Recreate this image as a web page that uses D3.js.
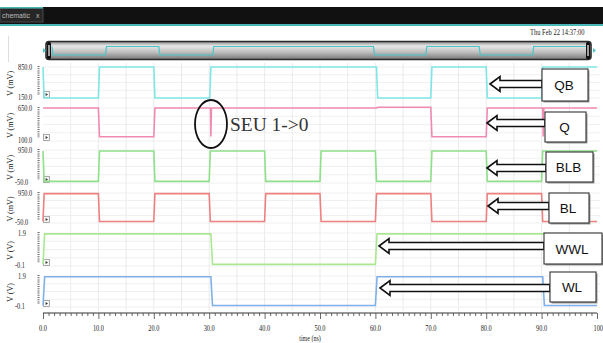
<!DOCTYPE html>
<html><head><meta charset="utf-8">
<script src="https://cdn.jsdelivr.net/npm/d3@7"></script>
<style>
html,body{margin:0;padding:0;background:#fff;}
svg{display:block;}
</style></head><body>
<svg id="chart" width="603" height="343"></svg>
<script>
// values
const timeTicks = [0,10,20,30,40,50,60,70,80,90,100];
const timeTickLabels = ["0.0","10.0","20.0","30.0","40.0","50.0","60.0","70.0","80.0","90.0","100"];
const signalNames = ["QB","Q","BLB","BL","WWL","WL"];
const unitLabels = ["V (mV)","V (mV)","V (mV)","V (mV)","V (V)","V (V)"];
const yTopLabels = ["850.0","650.0","950.0","950.0","1.9","1.9"];
const yBottomLabels = ["150.0","100.0","-50.0","-50.0","-0.1","-0.1"];
const yTopValues = [850,650,950,950,1.9,1.9];
const yBottomValues = [150,100,-50,-50,-0.1,-0.1];

// [time (ns), value]
const qb = [[0,850],[0.2,150],[10,150],[10.2,850],[20,850],[20.2,150],[30.1,150],[30.3,850],
  [60.2,850],[60.4,150],[70,150],[70.2,850],[80,850],[80.2,150],[90,150],[90.2,850],[100,850]];
const q = [[0,650],[10,650],[10.2,170],[20,170],[20.2,650],[30.25,650],[30.3,175],[30.4,650],
  [60.2,650],[60.4,662],[70,662],[70.2,170],[80,170],[80.2,650],[90.2,650],[90.3,175],[90.4,650],[100,650]];
const blb = [[0,920],[0.2,0],[10,0],[10.2,920],[20,920],[20.2,0],[30,0],[30.2,920],[40,920],[40.2,0],
  [50,0],[50.2,920],[60,920],[60.2,0],[70,0],[70.2,920],[80,920],[80.2,0],[90,0],[90.2,920],[100,920]];
const bl = [[0,0],[0.2,930],[10,930],[10.2,0],[20,0],[20.2,930],[30,930],[30.2,0],[40,0],[40.2,930],
  [50,930],[50.2,0],[60,0],[60.2,930],[70,930],[70.2,0],[80,0],[80.2,930],[90,930],[90.2,0],[100,0]];
const wwl = [[0,0],[0.3,1.85],[30.3,1.85],[30.6,0],[60,0],[60.3,1.85],[100,1.85]];
const wl = [[0,0],[0.3,1.85],[30.3,1.85],[30.6,0],[60,0],[60.3,1.85],[90.2,1.85],[90.5,0],[100,0]];
const signals = [qb, q, blb, bl, wwl, wl];
const colors = ["#7fe6e6","#f08ab2","#8ee08a","#ef8080","#a9e890","#7fb0ea"];

const svg = d3.select("#chart");
const W = 603;

// window chrome
svg.append("rect").attr("x",0).attr("y",7).attr("width",W).attr("height",17).attr("fill","#111");
svg.append("rect").attr("x",0).attr("y",24).attr("width",W).attr("height",2).attr("fill","#49b6b8");
svg.append("rect").attr("x",0).attr("y",8).attr("width",43).attr("height",14)
  .attr("fill","#262626").attr("stroke","#555").attr("stroke-width",0.8);
svg.append("rect").attr("x",0).attr("y",7).attr("width",43).attr("height",1.5).attr("fill","#49b6b8");
svg.append("text").attr("x",2).attr("y",18).attr("font-family","Liberation Sans").attr("font-size",7)
  .attr("fill","#bbb").text("chematic");
svg.append("text").attr("x",36).attr("y",18).attr("font-family","Liberation Sans").attr("font-size",7)
  .attr("fill","#bbb").text("x");
svg.append("line").attr("x1",8.5).attr("x2",8.5).attr("y1",36).attr("y2",62).attr("stroke","#ddd");

function squeeze(sel, k) {
  sel.each(function () {
    const w = this.getComputedTextLength();
    d3.select(this).attr("textLength", w * k).attr("lengthAdjust", "spacingAndGlyphs");
  });
  return sel;
}

squeeze(svg.append("text").attr("x",530).attr("y",35).attr("font-family","Liberation Serif")
  .attr("font-size",9).attr("fill","#222").text("Thu Feb 22 14:37:00"), 0.72);

// overview strip
const defs = svg.append("defs");
const grad = defs.append("linearGradient").attr("id","ov").attr("x1",0).attr("x2",0).attr("y1",0).attr("y2",1);
grad.append("stop").attr("offset","0%").attr("stop-color","#8a8a8a");
grad.append("stop").attr("offset","25%").attr("stop-color","#e8e8e8");
grad.append("stop").attr("offset","60%").attr("stop-color","#bdbdbd");
grad.append("stop").attr("offset","100%").attr("stop-color","#777");
svg.append("rect").attr("x",46).attr("y",41.5).attr("width",545).attr("height",18).attr("rx",3)
  .attr("fill","url(#ov)").attr("stroke","#2a2a2a").attr("stroke-width",1.6);
svg.append("rect").attr("x",47).attr("y",42).attr("width",4).attr("height",17).attr("rx",1.5).attr("fill","#111");
svg.append("rect").attr("x",48.3).attr("y",45).attr("width",1.4).attr("height",11).attr("fill","#ddd");
svg.append("rect").attr("x",586).attr("y",42).attr("width",4).attr("height",17).attr("rx",1.5).attr("fill","#111");
svg.append("rect").attr("x",587.3).attr("y",45).attr("width",1.4).attr("height",11).attr("fill","#ddd");
const xo = d3.scaleLinear().domain([0,100]).range([52,586]);
const yo = d3.scaleLinear().domain([150,850]).range([55,46.5]);
svg.append("path").datum(qb).attr("fill","none").attr("stroke","#49c6c8").attr("stroke-width",1.2)
  .attr("d", d3.line().x(d => xo(d[0])).y(d => yo(d[1])));
svg.append("path").attr("d","M43,48 L46,50.5 L43,53 Z").attr("fill","#49c6c8");
svg.append("path").attr("d","M593,48 L596,50.5 L593,53 Z").attr("fill","#49c6c8");

// main plot
const x = d3.scaleLinear().domain([0,100]).range([43,597]);
const panelTop = [67,108,150,193,233,276];
const panelBottom = [98,141,183,223,266,307];

// vertical grid every 5 ns
const gridG = svg.append("g");
gridG.selectAll("line.v").data(d3.range(5,100,5)).join("line")
  .attr("x1", d => x(d)).attr("x2", d => x(d)).attr("y1", 63).attr("y2", 311)
  .attr("stroke", "#e6e6e6").attr("stroke-width", 0.8);

signals.forEach((data, i) => {
  const y = d3.scaleLinear().domain([yBottomValues[i], yTopValues[i]]).range([panelBottom[i], panelTop[i]]);
  const g = svg.append("g");
  // horizontal grid
  g.selectAll("line.h").data(d3.range(0,5)).join("line")
    .attr("x1", 43).attr("x2", 600)
    .attr("y1", k => panelTop[i] + k * (panelBottom[i] - panelTop[i]) / 4)
    .attr("y2", k => panelTop[i] + k * (panelBottom[i] - panelTop[i]) / 4)
    .attr("stroke", "#ececec").attr("stroke-width", 0.8);
  // dashed ruler
  g.append("line").attr("x1",38.5).attr("x2",38.5).attr("y1",panelTop[i]-1).attr("y2",panelBottom[i]-3)
    .attr("stroke","#666").attr("stroke-width",2).attr("stroke-dasharray","1,1.2");
  // tick labels
  [[yTopLabels[i], panelTop[i] + 3], [yBottomLabels[i], panelBottom[i] + 2]].forEach(([lab, yy]) => {
    squeeze(g.append("text").attr("x", lab.startsWith("-") ? 15 : 18).attr("y", yy)
      .attr("font-family","Liberation Serif").attr("font-size",9).attr("fill","#222").text(lab), 0.7);
  });
  // unit label
  squeeze(g.append("text").attr("transform",`translate(13,${(panelTop[i]+panelBottom[i])/2 + 1}) rotate(-90)`)
    .attr("text-anchor","middle").attr("font-family","Liberation Serif").attr("font-size",8.5)
    .attr("fill","#222").text(unitLabels[i]), 0.95);
  // icon
  g.append("rect").attr("x",43.5).attr("y",panelBottom[i]-6.5).attr("width",6).attr("height",6)
    .attr("fill","#f6f6f6").attr("stroke","#888").attr("stroke-width",0.7);
  g.append("path").attr("d",`M45.6,${panelBottom[i]-5} L48,${panelBottom[i]-3.5} L45.6,${panelBottom[i]-2} Z`)
    .attr("fill","#333");
  // waveform
  g.append("path").datum(data).attr("fill","none").attr("stroke",colors[i]).attr("stroke-width",1.6)
    .attr("d", d3.line().x(d => x(d[0])).y(d => y(d[1])));
});

// time axis
const axG = svg.append("g").attr("transform","translate(0,313)");
axG.append("line").attr("x1",43).attr("x2",597).attr("stroke","#333").attr("stroke-width",1);
axG.selectAll("line.t").data(d3.range(0,101,1)).join("line")
  .attr("x1", d => x(d) + 0.5).attr("x2", d => x(d) + 0.5)
  .attr("y1", 0).attr("y2", d => d % 10 === 0 ? 6 : 3)
  .attr("stroke","#444").attr("stroke-width",0.8);
axG.selectAll("text").data(timeTicks).join("text")
  .attr("x", d => d === 100 ? 603 : x(d)).attr("y", 18)
  .attr("text-anchor", d => d === 100 ? "end" : "middle")
  .attr("font-family","Liberation Serif").attr("font-size",9).attr("fill","#222")
  .text((d, k) => timeTickLabels[k])
  .call(s => squeeze(s, 0.7));
squeeze(svg.append("text").attr("x",310).attr("y",341).attr("text-anchor","middle")
  .attr("font-family","Liberation Serif").attr("font-size",8).attr("fill","#222").text("time (ns)"), 0.75);

// annotations
svg.append("ellipse").attr("cx",211).attr("cy",124).attr("rx",16).attr("ry",24)
  .attr("fill","none").attr("stroke","#111").attr("stroke-width",1.8);
squeeze(svg.append("text").attr("x",230).attr("y",131).attr("font-family","Liberation Serif")
  .attr("font-size",18).attr("fill","#333").text("SEU 1->0"), 1.08);

function arrowPath(tip, cy, end, headH, shaftH) {
  const hx = tip + 10;
  return `M${tip},${cy} L${hx},${cy-headH} L${hx},${cy-shaftH} L${end},${cy-shaftH} L${end},${cy+shaftH} L${hx},${cy+shaftH} L${hx},${cy+headH} Z`;
}
const boxes = [
  {tip:490, cy:84,  x0:542, x1:588, y0:69,  y1:101},
  {tip:487, cy:123, x0:545, x1:586, y0:112, y1:142},
  {tip:487, cy:168, x0:546, x1:593, y0:152, y1:182},
  {tip:488, cy:206, x0:549, x1:589, y0:193, y1:223},
  {tip:379, cy:246, x0:544, x1:602, y0:233, y1:264},
  {tip:380, cy:288, x0:550, x1:596, y0:272, y1:302}
];
boxes.forEach((b, i) => {
  svg.append("path").attr("d", arrowPath(b.tip, b.cy, b.x0, 7.5, 3.5))
    .attr("fill","#fff").attr("stroke","#111").attr("stroke-width",1.6).attr("stroke-linejoin","miter");
  svg.append("rect").attr("x",b.x0+1.5).attr("y",b.y0+1.5).attr("width",b.x1-b.x0).attr("height",b.y1-b.y0)
    .attr("fill","#999");
  svg.append("rect").attr("x",b.x0).attr("y",b.y0).attr("width",b.x1-b.x0).attr("height",b.y1-b.y0)
    .attr("fill","#fff").attr("stroke","#333").attr("stroke-width",1.1);
  svg.append("text").attr("x",(b.x0+b.x1)/2 - 1).attr("y",(b.y0+b.y1)/2 + 5)
    .attr("text-anchor","middle").attr("font-family","Liberation Sans").attr("font-size",13.5)
    .attr("fill","#111").text(signalNames[i]);
});
</script>
</body></html>
